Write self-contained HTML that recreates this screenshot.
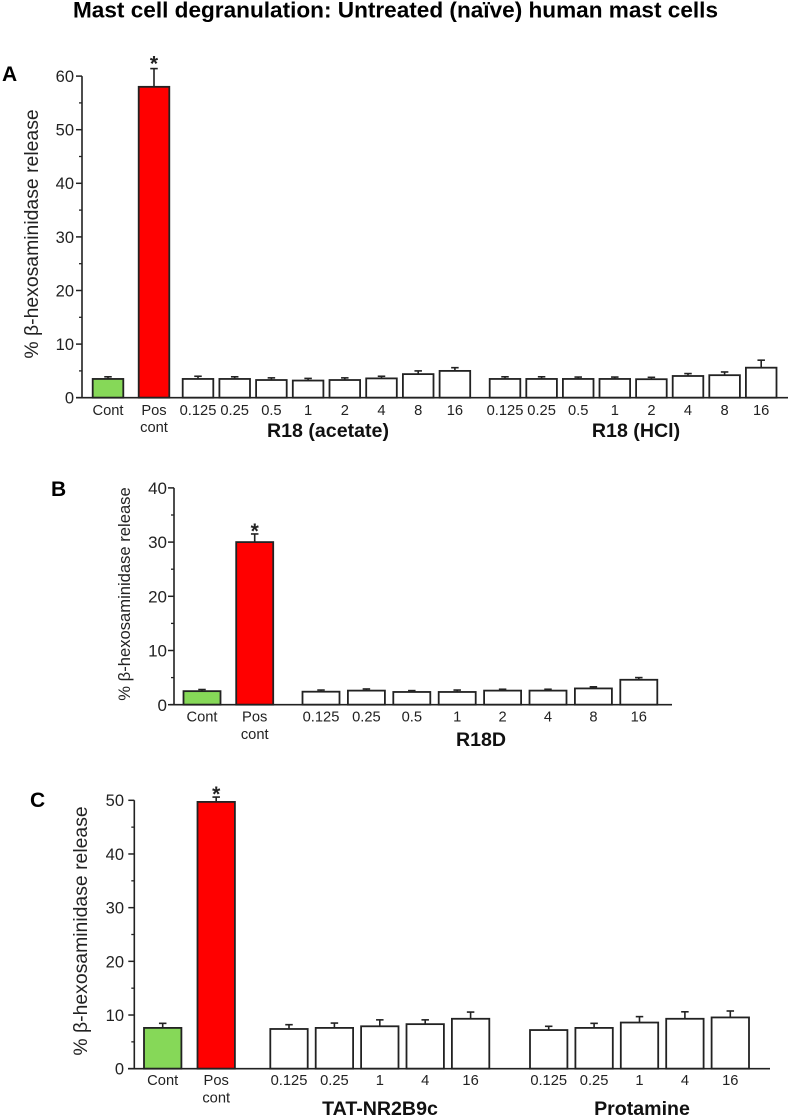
<!DOCTYPE html>
<html lang="en">
<head>
<meta charset="utf-8">
<title>Mast cell degranulation</title>
<style>
html,body{margin:0;padding:0;background:#fff;}
svg{display:block;font-family:"Liberation Sans",Arial,sans-serif;}
text{fill:#222;}
</style>
</head>
<body>
<svg id="figure" xmlns="http://www.w3.org/2000/svg" width="790" height="1117" viewBox="0 0 790 1117">
  <text x="395.5" y="17.5" text-anchor="middle" font-size="22" font-weight="bold" textLength="645" lengthAdjust="spacingAndGlyphs" style="fill:#000">Mast cell degranulation: Untreated (naïve) human mast cells</text>

  <text x="2" y="81" font-size="21" font-weight="bold" style="fill:#000">A</text>
  <text x="51" y="496" font-size="21" font-weight="bold" style="fill:#000">B</text>
  <text x="30" y="807" font-size="21" font-weight="bold" style="fill:#000">C</text>

  <text transform="translate(38,234) rotate(-90)" text-anchor="middle" font-size="19.4">% β-hexosaminidase release</text>
  <text transform="translate(130,594) rotate(-90)" text-anchor="middle" font-size="16.6">% β-hexosaminidase release</text>
  <text transform="translate(87,931) rotate(-90)" text-anchor="middle" font-size="19.4">% β-hexosaminidase release</text>

  <text x="328" y="437" text-anchor="middle" font-size="19.6" font-weight="bold" style="fill:#111">R18 (acetate)</text>
  <text x="636" y="437" text-anchor="middle" font-size="19.6" font-weight="bold" style="fill:#111">R18 (HCl)</text>
  <text x="481" y="746" text-anchor="middle" font-size="19.6" font-weight="bold" style="fill:#111">R18D</text>
  <text x="380" y="1115" text-anchor="middle" font-size="19.6" font-weight="bold" style="fill:#111">TAT-NR2B9c</text>
  <text x="642" y="1115" text-anchor="middle" font-size="19.6" font-weight="bold" style="fill:#111">Protamine</text>
</svg>
<script>
// ----- Panel A data -----
const panelACategories = ['Cont','Pos\ncont','0.125','0.25','0.5','1','2','4','8','16','0.125','0.25','0.5','1','2','4','8','16'];
const panelAValues = [3.5,58,3.5,3.5,3.3,3.2,3.3,3.6,4.4,5.0,3.5,3.5,3.5,3.5,3.45,4.05,4.2,5.6];
const panelAErrors = [0.4,3.4,0.5,0.4,0.4,0.4,0.4,0.4,0.6,0.6,0.4,0.4,0.35,0.35,0.35,0.45,0.6,1.4];
const panelATicks = [0,10,20,30,40,50,60];

// ----- Panel B data -----
const panelBCategories = ['Cont','Pos\ncont','0.125','0.25','0.5','1','2','4','8','16'];
const panelBValues = [2.5,30,2.4,2.6,2.35,2.35,2.6,2.6,3.0,4.6];
const panelBErrors = [0.3,1.5,0.3,0.3,0.25,0.35,0.25,0.25,0.3,0.4];
const panelBTicks = [0,10,20,30,40];

// ----- Panel C data -----
const panelCCategories = ['Cont','Pos\ncont','0.125','0.25','1','4','16','0.125','0.25','1','4','16'];
const panelCValues = [7.6,49.7,7.4,7.6,7.9,8.3,9.3,7.2,7.6,8.6,9.3,9.55];
const panelCErrors = [0.85,0.9,0.8,0.9,1.2,0.8,1.25,0.7,0.85,1.1,1.3,1.2];
const panelCTicks = [0,10,20,30,40,50];

// ----- Axis functions -----
const yA = v => 397.7 - v * 5.36;
const yB = v => 704.7 - v * 5.42;
const yC = v => 1068.7 - v * 5.368;
const xA = i => i < 2 ? 108 + 46 * i : i < 10 ? 198 + 36.7 * (i - 2) : 505 + 36.6 * (i - 10);
const xB = i => i < 2 ? 202 + 52.7 * i : 321 + 45.4 * (i - 2);
const xC = i => i < 2 ? 162.7 + 53.5 * i : i < 7 ? 289 + 45.4 * (i - 2) : 548.7 + 45.4 * (i - 7);

const svg = document.getElementById('figure');
const NS = 'http://www.w3.org/2000/svg';
const INK = '#222';

function make(tag, attrs) {
  const el = document.createElementNS(NS, tag);
  for (const k in attrs) el.setAttribute(k, attrs[k]);
  svg.appendChild(el);
  return el;
}

function drawPanel(p) {
  const { id, categories, values, errors, ticks, x, y, axisX, axisStart, axisEnd, barWidth, capWidth,
          tickFont, tickRight, labelFont, labelY, labelGap, starSize } = p;

  // bars and error bars
  categories.forEach((cat, i) => {
    const cx = x(i);
    const top = y(values[i]);
    const errTop = y(values[i] + errors[i]);
    const fill = i === 0 ? '#86d858' : i === 1 ? '#ff0000' : '#ffffff';

    const stem = make('line', { x1: cx, x2: cx, y1: top, y2: errTop, stroke: INK, 'stroke-width': 1.6 });
    
    

    const cap = make('line', { x1: cx - capWidth / 2, x2: cx + capWidth / 2, y1: errTop, y2: errTop, stroke: INK, 'stroke-width': 1.6 });
    
    

    const bar = make('rect', { x: cx - barWidth / 2, y: top, width: barWidth, height: y(0) - top, fill: fill, stroke: INK, 'stroke-width': 1.8 });
    
    

    cat.split('\n').forEach((line, j) => {
      const label = make('text', { x: cx, y: labelY + j * labelGap, 'text-anchor': 'middle', 'font-size': labelFont });
      
      
      label.textContent = line;
    });
  });

  // significance star above the positive control
  const star = make('text', { x: x(1), y: y(values[1] + errors[1]) + p.starOffset, 'text-anchor': 'middle', 'font-size': starSize, 'font-weight': 'bold' });
  
  
  star.textContent = '*';

  // y axis
  const yAxis = make('line', { x1: axisX, x2: axisX, y1: y(0), y2: y(ticks[ticks.length - 1]), stroke: INK, 'stroke-width': 1.6 });
  
  

  ticks.forEach((t, i) => {
    const tick = make('line', { x1: axisX - 6, x2: axisX, y1: y(t), y2: y(t), stroke: INK, 'stroke-width': 1.5 });
    
    

    const label = make('text', { x: tickRight, y: y(t) + tickFont * 0.36, 'text-anchor': 'end', 'font-size': tickFont });
    
    
    label.textContent = t;

    if (i < ticks.length - 1) {
      const mid = (t + ticks[i + 1]) / 2;
      const minor = make('line', { x1: axisX - 3, x2: axisX, y1: y(mid), y2: y(mid), stroke: INK, 'stroke-width': 1.3 });
      
      
    }
  });

  // x axis
  const xAxis = make('line', { x1: axisStart, x2: axisEnd, y1: y(0), y2: y(0), stroke: INK, 'stroke-width': 1.6 });
  
  
}

drawPanel({ id: 'panel-a', categories: panelACategories, values: panelAValues, errors: panelAErrors, ticks: panelATicks,
  x: xA, y: yA, axisX: 82, axisStart: 76, axisEnd: 788, barWidth: 30.6, capWidth: 7.5,
  tickFont: 16.5, tickRight: 74, labelFont: 14.7, labelY: 415, labelGap: 17, starSize: 21, starOffset: 2 });

drawPanel({ id: 'panel-b', categories: panelBCategories, values: panelBValues, errors: panelBErrors, ticks: panelBTicks,
  x: xB, y: yB, axisX: 174, axisStart: 170, axisEnd: 672, barWidth: 37, capWidth: 7.5,
  tickFont: 17, tickRight: 167, labelFont: 14.7, labelY: 721.5, labelGap: 17.5, starSize: 21, starOffset: 4 });

drawPanel({ id: 'panel-c', categories: panelCCategories, values: panelCValues, errors: panelCErrors, ticks: panelCTicks,
  x: xC, y: yC, axisX: 134.3, axisStart: 128, axisEnd: 770, barWidth: 37.4, capWidth: 7.5,
  tickFont: 16.5, tickRight: 124, labelFont: 14.7, labelY: 1085, labelGap: 17.5, starSize: 21, starOffset: 4 });
</script>
</body>
</html>
